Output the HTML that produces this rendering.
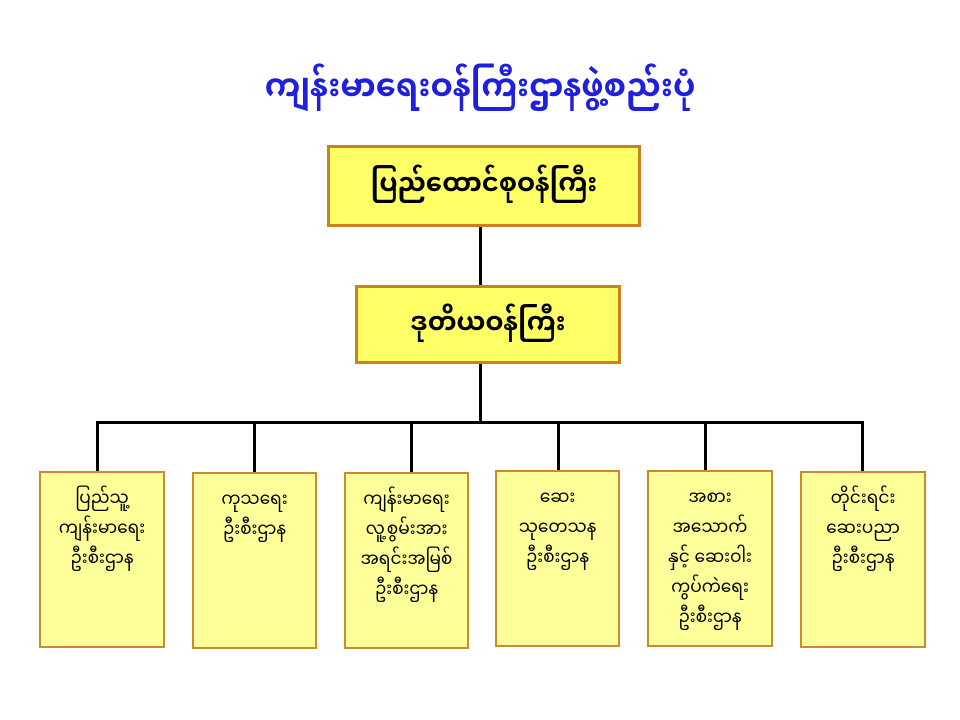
<!DOCTYPE html>
<html><head><meta charset="utf-8"><style>
body{margin:0;width:960px;height:720px;background:#fff;position:relative;overflow:hidden;font-family:"Liberation Sans","Noto Sans Myanmar","Padauk",sans-serif}
.b{position:absolute;box-sizing:border-box;border:2px solid #cc8a2e;background:#ffff99;text-align:center;color:#000}
.t{position:absolute;background:#ffff66;border:3px solid #cc8020;display:flex;align-items:center;justify-content:center;font-size:26px;font-weight:bold}
.s{font-size:17px;line-height:30px;padding-top:10px}
.l{position:absolute;background:#000}
</style></head><body>
<div style="position:absolute;left:0;top:54px;width:960px;text-align:center;color:#1f1fe0;font-size:32px;font-weight:bold">ကျန်းမာရေးဝန်ကြီးဌာနဖွဲ့စည်းပုံ</div>
<div class="b t" style="left:327px;top:145px;width:314px;height:82px">ပြည်ထောင်စုဝန်ကြီး</div>
<div class="b t" style="left:355px;top:285px;width:266px;height:79px">ဒုတိယဝန်ကြီး</div>
<div class="l" style="left:479px;top:227px;width:3px;height:58px"></div>
<div class="l" style="left:479px;top:364px;width:3px;height:58px"></div>
<div class="l" style="left:96px;top:421px;width:768px;height:3px"></div>
<div class="l" style="left:96px;top:421px;width:3px;height:50px"></div>
<div class="l" style="left:253px;top:421px;width:3px;height:51px"></div>
<div class="l" style="left:410px;top:421px;width:3px;height:51px"></div>
<div class="l" style="left:557px;top:421px;width:3px;height:49px"></div>
<div class="l" style="left:704px;top:421px;width:3px;height:49px"></div>
<div class="l" style="left:861px;top:421px;width:3px;height:50px"></div>
<div class="b s" style="left:39px;top:471px;width:126px;height:177px">ပြည်သူ့<br>ကျန်းမာရေး<br>ဦးစီးဌာန</div>
<div class="b s" style="left:192px;top:472px;width:125px;height:177px">ကုသရေး<br>ဦးစီးဌာန</div>
<div class="b s" style="left:344px;top:472px;width:125px;height:177px">ကျန်းမာရေး<br>လူ့စွမ်းအား<br>အရင်းအမြစ်<br>ဦးစီးဌာန</div>
<div class="b s" style="left:495px;top:470px;width:125px;height:177px">ဆေး<br>သုတေသန<br>ဦးစီးဌာန</div>
<div class="b s" style="left:647px;top:470px;width:126px;height:177px">အစား<br>အသောက်<br>နှင့် ဆေးဝါး<br>ကွပ်ကဲရေး<br>ဦးစီးဌာန</div>
<div class="b s" style="left:800px;top:471px;width:126px;height:177px">တိုင်းရင်း<br>ဆေးပညာ<br>ဦးစီးဌာန</div>
</body></html>
